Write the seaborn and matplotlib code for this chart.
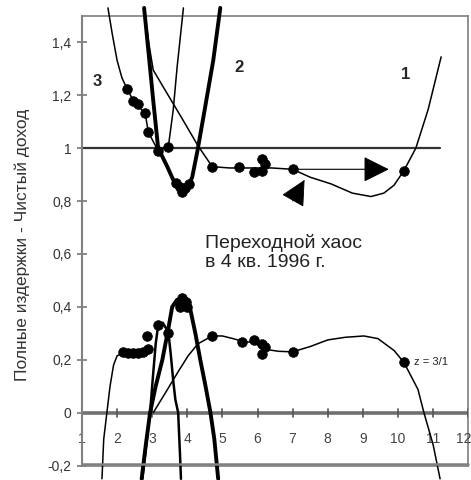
import matplotlib
matplotlib.use('Agg')
import matplotlib.pyplot as plt
import seaborn as sns

# upper panel: curves 1, 2, 3
c3_up_x = [1.74, 1.86, 2.0, 2.14, 2.29, 2.46, 2.66, 2.8, 2.89, 3.17, 3.46, 3.6, 3.71, 3.89]
c3_up_y = [1.53, 1.434, 1.332, 1.265, 1.223, 1.18, 1.15, 1.133, 1.06, 0.99, 1.005, 1.145, 1.306, 1.53]

c2_up_x = [2.77, 2.89, 3.03, 3.17, 3.43, 3.6, 3.75, 3.89, 4.02, 4.14, 4.29, 4.51, 4.74, 4.94]
c2_up_y = [1.53, 1.37, 1.18, 1.0, 0.93, 0.88, 0.855, 0.845, 0.855, 0.89, 0.99, 1.156, 1.332, 1.53]

c1_up_x = [2.77, 2.9, 3.03, 3.5, 3.86, 4.3, 4.71, 5.2, 5.8, 6.4, 7.0, 7.5, 8.09, 8.7, 9.23,
           9.6, 9.89, 10.17, 10.51, 10.86, 11.23]
c1_up_y = [1.53, 1.4, 1.295, 1.19, 1.11, 1.01, 0.93, 0.925, 0.925, 0.925, 0.92, 0.89, 0.865,
           0.83, 0.817, 0.83, 0.86, 0.915, 1.0, 1.146, 1.345]

dots_up_x = [2.29, 2.46, 2.6, 2.8, 2.89, 3.17, 3.46, 3.68, 3.8, 3.93, 4.05, 3.86,
             4.71, 5.46, 5.89, 6.14, 6.14, 6.2, 7.0, 10.17]
dots_up_y = [1.223, 1.18, 1.165, 1.133, 1.06, 0.99, 1.005, 0.87, 0.852, 0.85, 0.865, 0.835,
             0.93, 0.93, 0.91, 0.96, 0.915, 0.94, 0.92, 0.915]

# lower panel
cA_low_x = [1.57, 1.62, 1.71, 1.8, 1.9, 2.0, 2.17, 2.5, 2.75, 2.89]
cA_low_y = [-0.25, -0.1, 0.0, 0.1, 0.18, 0.215, 0.225, 0.225, 0.23, 0.24]

cD_low_x = [2.72, 2.85, 2.94, 3.03, 3.1, 3.17, 3.3, 3.46, 3.53, 3.6, 3.66, 3.74, 3.79, 3.82]
cD_low_y = [-0.25, -0.1, 0.0, 0.15, 0.26, 0.33, 0.34, 0.305, 0.22, 0.12, 0.05, 0.0, -0.15, -0.25]

cB_low_x = [2.7, 2.82, 2.94, 3.1, 3.29, 3.45, 3.57, 3.7, 3.82, 3.95, 4.09, 4.23, 4.37, 4.52, 4.66, 4.77, 4.88]
cB_low_y = [-0.25, -0.12, 0.0, 0.1, 0.2, 0.31, 0.40, 0.425, 0.432, 0.425, 0.388, 0.3, 0.2, 0.1, 0.0, -0.1, -0.25]

cC_low_x = [3.03, 3.4, 3.74, 4.03, 4.3, 4.57, 4.71, 5.0, 5.3, 5.57, 5.89, 6.2, 6.6, 7.0, 7.5,
            8.0, 8.5, 9.03, 9.43, 9.89, 10.17, 10.57, 10.74, 11.0, 11.2]
cC_low_y = [0.0, 0.08, 0.155, 0.216, 0.26, 0.28, 0.29, 0.29, 0.28, 0.27, 0.265, 0.24, 0.232, 0.23,
            0.25, 0.275, 0.285, 0.29, 0.28, 0.235, 0.19, 0.088, 0.0, -0.12, -0.25]

dots_low_x = [2.17, 2.32, 2.46, 2.6, 2.74, 2.89, 2.86, 3.17, 3.46, 3.75, 3.85, 3.95, 3.8, 4.0,
              4.71, 5.57, 5.89, 6.14, 6.2, 6.14, 7.0, 10.17]
dots_low_y = [0.23, 0.225, 0.225, 0.225, 0.23, 0.24, 0.29, 0.33, 0.3, 0.42, 0.435, 0.42, 0.4, 0.4,
              0.29, 0.267, 0.275, 0.26, 0.25, 0.22, 0.23, 0.19]

yticks = [-0.2, 0, 0.2, 0.4, 0.6, 0.8, 1, 1.2, 1.4]
ytick_labels = ['-0,2', '0', '0,2', '0,4', '0,6', '0,8', '1', '1,2', '1,4']
xticks = list(range(1, 13))

sns.set_style('white')
plt.rcParams['font.family'] = ['Liberation Sans', 'DejaVu Sans']

fig = plt.figure(figsize=(4.71, 4.8), dpi=100)
ax = fig.add_axes([0.174, 0.03, 0.82, 0.937])
ylo, yhi = -0.2, 1.5
ax.set_xlim(1, 12)
ax.set_ylim(ylo, yhi)

thin = 1.1
thick = 2.8
for xs, ys, w in [(c3_up_x, c3_up_y, thin), (c2_up_x, c2_up_y, thick), (c1_up_x, c1_up_y, thin),
                  (cA_low_x, cA_low_y, thin), (cD_low_x, cD_low_y, 1.8),
                  (cB_low_x, cB_low_y, thick), (cC_low_x, cC_low_y, thin)]:
    sns.lineplot(x=xs, y=ys, sort=False, estimator=None, color='black', lw=w,
                 clip_on=False, ax=ax, zorder=4)

sns.scatterplot(x=dots_up_x + dots_low_x, y=dots_up_y + dots_low_y, s=48, color='black',
                edgecolor='black', ax=ax, zorder=5, clip_on=False)

ax.axhline(1, xmin=0, xmax=(11.2 - 1) / 11, color='#333333', lw=1.6, zorder=3)
# zero line carrying the x ticks, and the frame bottom
ax.axhline(0, color='#707070', lw=2.6, zorder=3)
ax.axhline(-0.193, color='#808080', lw=1.8, zorder=10, clip_on=False)
ax.axvline(1, color='#808080', lw=1.5, zorder=10, clip_on=False)

# arrows
ax.annotate('', xy=(9.74, 0.92), xytext=(7.0, 0.92),
            arrowprops=dict(arrowstyle='-|>,head_length=0.9,head_width=0.45', mutation_scale=18,
                            color='black', lw=0.8, shrinkA=0, shrinkB=0))
ax.annotate('', xy=(7.34, 0.88), xytext=(7.0, 0.80),
            arrowprops=dict(arrowstyle='-|>,head_length=0.9,head_width=0.45', mutation_scale=18,
                            color='black', lw=0.6, shrinkA=0, shrinkB=0))

ax.text(1.43, 1.25, '3', fontsize=12, fontweight='bold', ha='center', va='center')
ax.text(5.46, 1.306, '2', fontsize=12, fontweight='bold', ha='center', va='center')
ax.text(10.23, 1.28, '1', fontsize=12, fontweight='bold', ha='center', va='center')
ax.text(4.5, 0.605, 'Переходной хаос\nв 4 кв. 1996 г.', fontsize=14, ha='left', va='center',
        linespacing=1.2, color='#222222')
ax.text(10.45, 0.19, 'z = 3/1', fontsize=8, ha='left', va='center', color='#222222')

ax.set_yticks(yticks)
ax.set_yticklabels(ytick_labels)
ax.tick_params(axis='y', direction='inout', length=7, width=1.2, color='#777777',
               labelsize=10, labelcolor='#333333', pad=4, left=True)
ax.set_ylabel('Полные издержки - Чистый доход', fontsize=12.5, color='#333333')
ax.yaxis.set_label_coords(-0.135, 0.49)

for side in ['left', 'right', 'top', 'bottom']:
    ax.spines[side].set_color('#888888')
    ax.spines[side].set_linewidth(1.3)
    ax.spines[side].set_visible(True)

# x tick labels sit just under the zero line
ax.set_xticks(xticks)
ax.tick_params(axis='x', bottom=False, labelbottom=False)
for xv in xticks:
    ax.text(min(xv, 11.88), -0.1, str(xv), fontsize=10, color='#444444', ha='center', va='center')
    ax.plot([xv, xv], [-0.015, 0.015], color='#555555', lw=1.2, zorder=3)

fig.savefig('out.png', dpi=100)
